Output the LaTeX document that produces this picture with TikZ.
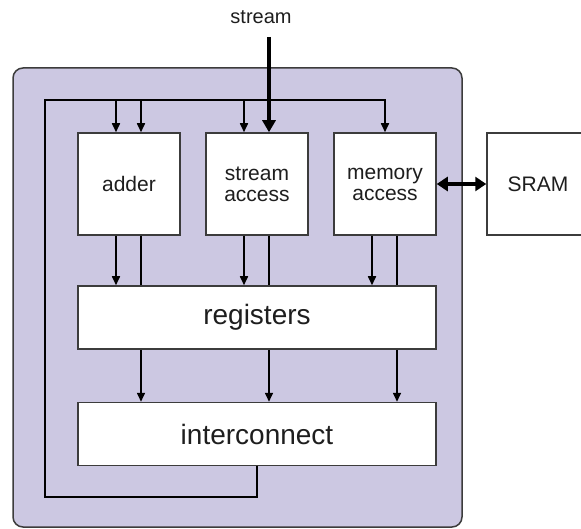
\documentclass[tikz,border=0pt]{standalone}
\usepackage{fontspec}
\setmainfont{Liberation Sans}
\usetikzlibrary{arrows.meta}
\definecolor{chipfill}{RGB}{204,200,226}
\definecolor{edgegray}{RGB}{60,60,60}
\definecolor{inkgray}{RGB}{30,30,30}
\begin{document}
\begin{tikzpicture}[x=1pt,y=-1pt,
  block/.style={draw=edgegray, line width=1.5pt, fill=white, inner sep=0pt,
    align=center, text=inkgray, font=\fontsize{21}{21}\selectfont},
  unit/.style={block, minimum width=102pt, minimum height=102pt},
  wide/.style={block, minimum width=358pt, minimum height=63pt,
    font=\fontsize{28}{28}\selectfont},
  wire/.style={line width=1.6pt, draw=black, -{Triangle[length=9pt,width=8pt]}},
  plainwire/.style={line width=1.6pt, draw=black},
  fatwire/.style={line width=3.5pt, draw=black, -{Triangle[length=12pt,width=13pt]}},
  biwire/.style={line width=3.5pt, draw=black,
    {Triangle[length=11pt,width=14pt]}-{Triangle[length=11pt,width=14pt]}}]
  \clip (0,0) rectangle (581,529);

  % processor outline
  \draw[rounded corners=10pt, fill=chipfill, draw=edgegray, line width=1.5pt]
    (13,68) rectangle (462,527);

  % functional units
  \node[unit] (adder)  at (129,184) {adder};
  \node[unit] (stracc) at (257,184) {stream\\access};
  \node[unit] (memacc) at (385,184) {memory\\access};
  \node[unit] (sram)   at (538,184) {SRAM};
  \node[wide] (regs)   at (257,317.5) {registers};
  \node[wide] (icon)   at (257,434) {interconnect};

  \node[text=inkgray, font=\fontsize{20}{20}\selectfont] (slabel) at (261,17) {stream};

  % feedback bus from the interconnect back to the units
  \coordinate (busBL) at (45,497);
  \coordinate (busTL) at (45,100);
  \draw[wire] (icon.south) -- (icon.south |- busBL) -- (busBL) -- (busTL) -| (memacc.north);

  % taps on each unit
  \foreach \u in {adder,stracc,memacc}{
    \coordinate (\u-l) at ([xshift=-13pt]\u.north);
    \coordinate (\u-r) at ([xshift=12pt]\u.north);
    \coordinate (\u-bl) at ([xshift=-13pt]\u.south);
    \coordinate (\u-br) at ([xshift=12pt]\u.south);
    \draw[wire] (\u-bl) -- (\u-bl |- regs.north);
    \draw[plainwire] (\u-br) -- (\u-br |- regs.north);
    \coordinate (\u-rr) at (\u-br |- regs.south);
    \draw[wire] (\u-rr) -- (\u-rr |- icon.north);
  }
  \draw[wire] (adder-l |- busTL) -- (adder-l);
  \draw[wire] (adder-r |- busTL) -- (adder-r);
  \draw[wire] (stracc-l |- busTL) -- (stracc-l);

  % incoming stream
  \coordinate (sin) at (stracc-r |- 0,37);
  \draw[fatwire] (sin) -- (stracc-r);

  % memory port
  \draw[biwire] (memacc.east) -- (sram.west);
\end{tikzpicture}
\end{document}
